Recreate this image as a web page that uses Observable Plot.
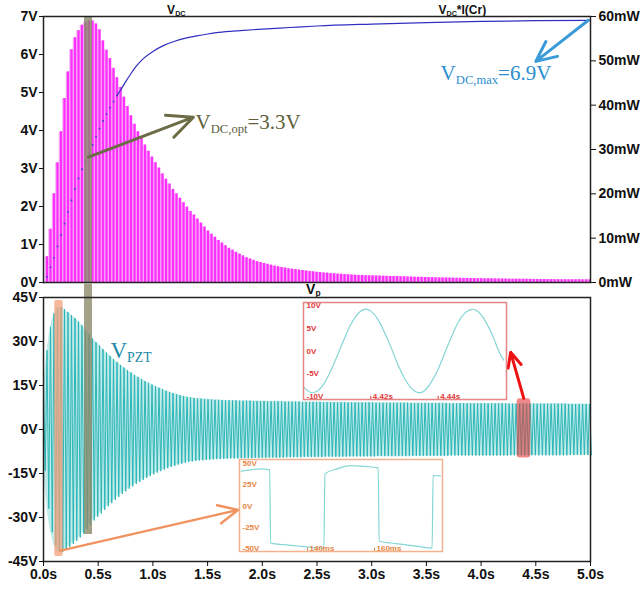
<!DOCTYPE html>
<html><head><meta charset="utf-8">
<script src="https://cdn.jsdelivr.net/npm/d3@7"></script>
<script src="https://cdn.jsdelivr.net/npm/@observablehq/plot@0.6"></script>
<style>
body{margin:0;background:#fff;}
#chart{position:relative;width:642px;height:591px;overflow:hidden;background:#fff;}
#chart svg{position:absolute;overflow:visible;}
</style></head><body><div id="chart"></div>
<script>
// ---------- data ----------
const PERIOD = 0.032; // s, one PZT cycle
// V_DC * I(Cr) per cycle, mW
const powerMW = [0,5.8,12,20,27,34,41.5,47.5,52.5,55.2,
56.8,58,58.7,59,59,58.3,57,54.5,52.4,50.5,
48.3,46.2,44,41.8,39.7,37.6,35.7,34,32.5,31,
29.6,28.3,27,25.8,24.5,23.3,22.2,21,20,19,
18,17,16,15.2,14.3,13.4,12.5,11.6,10.9,10.2,
9.5,8.9,8.3,7.7,7.3,6.8,6.4,6,5.6,5.3,
5,4.7,4.5,4.3,4.1,3.9,3.7,3.55,3.4,3.25,
3.1,3,2.9,2.8,2.7,2.6,2.5,2.4,2.3,2.25,
2.15,2.1,2,1.95,1.9,1.85,1.8,1.75,1.7,1.65,
1.6,1.6,1.55,1.5,1.5,1.47,1.45,1.42,1.4,1.37,
1.35,1.33,1.3,1.28,1.25,1.23,1.2,1.18,1.16,1.13,
1.11,1.09,1.06,1.04,1.03,1.01,0.99,0.98,0.96,0.95,
0.93,0.91,0.9,0.88,0.87,0.85,0.84,0.83,0.82,0.81,
0.8,0.78,0.77,0.76,0.75,0.74,0.73,0.72,0.71,0.71,
0.7,0.69,0.68,0.67,0.67,0.66,0.65,0.64,0.63,0.63,
0.62,0.62,0.61,0.61,0.6,0.6,0.6];
// V_PZT peak amplitude per cycle, V
const vpztAmp = [14,27,35,39.5,41.5,41.8,41,40,39,38,
36.8,35.5,34,32.5,31,29.8,28.6,27.4,26.2,25.1,
24,23,22,21.1,20.2,19.4,18.6,17.9,17.2,16.5,
15.9,15.3,14.7,14.2,13.7,13.2,12.8,12.4,12,11.7,
11.4,11.1,10.9,10.7,10.6,10.5,10.4,10.3,10.2,10.1,
10.1,10,10,9.9,9.9,9.9,9.8,9.8,9.8,9.8,
9.7,9.7,9.7,9.7,9.6,9.6,9.6,9.6,9.6,9.5,
9.5,9.5,9.5,9.5,9.4,9.4,9.4,9.4,9.4,9.4,
9.3,9.3,9.3,9.3,9.3,9.3,9.3,9.2,9.2,9.2,
9.2,9.2,9.2,9.2,9.2,9.1,9.1,9.1,9.1,9.1,
9.1,9.1,9.1,9.1,9.1,9,9,9,9,9,
9,9,9,9,9,9,8.9,8.9,8.9,8.9,
8.9,8.9,8.9,8.9,8.9,8.9,8.9,8.9,8.9,8.9,
8.9,8.9,8.9,8.8,8.8,8.8,8.8,8.8,8.8,8.8,
8.8,8.8,8.8,8.8,8.8,8.8,8.8,8.8,8.8,8.8,
8.7,8.7,8.7,8.7,8.7,8.7,8.7];
// V_DC sampled once per cycle (dotted part, t < 0.7 s)
const vdcDotsV = [0,0.15,0.4,0.65,0.95,1.25,1.55,1.86,2.16,2.46,2.74,2.98,3.2,3.4,3.62,3.84,4.05,4.25,4.43,4.6,4.76,4.92];
// V_DC solid part
const vdcLineT = [0.672,0.704,0.75,0.8,0.85,0.9,1.0,1.1,1.2,1.3,1.4,1.5,1.6,1.8,2.0,2.25,2.5,3.0,3.5,4.0,4.5,5.0];
const vdcLineV = [4.92,5.06,5.28,5.5,5.7,5.86,6.08,6.24,6.35,6.43,6.49,6.54,6.58,6.63,6.67,6.71,6.75,6.8,6.84,6.87,6.89,6.9];
// inset 1: V_PZT around 4.43 s
const sineT = [4.400,4.402,4.404,4.406,4.408,4.410,4.412,4.414,4.416,4.418,4.420,4.422,4.424,4.426,4.428,4.430,4.432,4.434,4.436,4.438,4.440,4.442,4.444,4.446,4.448,4.450,4.452,4.454,4.456,4.458,4.4595];
const sineV = [-7.9,-9.1,-8.9,-7.3,-4.5,-1.1,2.5,5.8,8.1,9.2,8.8,7.1,4.2,0.8,-2.9,-6.0,-8.2,-9.2,-8.7,-6.8,-4.0,-0.4,3.2,6.4,8.4,9.2,8.6,6.6,3.7,0.0,-2.0];
// inset 2: V_PZT around 150 ms
const sqT = [120.2,123,126,128.7,129.0,133,137,141,144.9,145.2,149,152.8,157,161.1,161.4,165,169,173,177.2,177.5,179.7];
const sqV = [41,42.5,43.7,42.5,-43.7,-45.5,-47,-48.5,-49.5,37.9,44,47.6,46.5,44.9,-41.4,-43.5,-45.5,-47.5,-49.5,35.9,35.5];
// tick labels
const vTicks = [0,1,2,3,4,5,6,7];
const mwTicks = [0,10,20,30,40,50,60];
const pztTicks = [-45,-30,-15,0,15,30,45];
const timeTicks = [0,0.5,1,1.5,2,2.5,3,3.5,4,4.5,5];
const sineYTicks = [10,5,0,-5,-10];
const sineXTicks = [4.42,4.44];
const sqYTicks = [50,25,0,-25,-50];
const sqXTicks = [140,160];
// annotations (data units)
const vdcOpt = {t: 0.41, v: 3.3};
const vdcMax = {t: 4.98, v: 6.9};

// ---------- build ----------
const V_PER_MW = 7 / 60;
const powerRows = powerMW.map((p, k) => ({t: k * PERIOD, p}));
const pztRows = vpztAmp.map((a, k) => ({t: k * PERIOD, a}));
const pztZig = vpztAmp.flatMap((a, k) => [{t: k * PERIOD, v: a}, {t: k * PERIOD + PERIOD / 2, v: -a}]);
const dotRows = vdcDotsV.map((v, k) => ({t: k * PERIOD, v}));
const lineRows = vdcLineT.map((t, i) => ({t, v: vdcLineV[i]}));
const sineRows = sineT.map((t, i) => ({t, v: sineV[i]}));
const sqRows = sqT.map((t, i) => ({t, v: sqV[i]}));

const SANS = "Arial, 'Liberation Sans', sans-serif";
const SERIF = "'Times New Roman', 'Liberation Serif', serif";
const baseStyle = {fontFamily: SANS, fontSize: "14px", fontWeight: "bold", color: "#111", background: "transparent", overflow: "visible"};

const chart = document.getElementById("chart");

function richify(svg) {
  d3.select(svg).selectAll("text").each(function() {
    const s = this.textContent;
    if (!s.includes("_{")) return;
    const parts = s.split(/(_\{[^}]*\})/).filter(p => p.length);
    const el = d3.select(this);
    el.text(null);
    let shifted = false;
    for (const p of parts) {
      if (p.startsWith("_{")) {
        el.append("tspan").attr("font-size", "0.6em").attr("dy", "0.35em").text(p.slice(2, -1));
        shifted = true;
      } else {
        const ts = el.append("tspan").text(p);
        if (shifted) { ts.attr("dy", "-0.21em"); shifted = false; }
      }
    }
  });
}
function place(svg, left, top) {
  svg.style.left = left + "px";
  svg.style.top = top + "px";
  chart.appendChild(svg);
  richify(svg);
}

// top panel
const topPlot = Plot.plot({
  width: 642, height: 290,
  marginTop: 16, marginBottom: 8, marginLeft: 43, marginRight: 52,
  style: baseStyle,
  x: {domain: [0, 5], axis: null},
  y: {domain: [0, 7]},
  marks: [
    Plot.areaY(powerRows, {x: "t", y: d => d.p * V_PER_MW, curve: "step", fill: "#f6acf6"}),
    Plot.ruleX(powerRows, {x: "t", y1: 0, y2: d => d.p * V_PER_MW, stroke: "#ff30ff", strokeWidth: 2.2}),
    Plot.dot(dotRows, {x: "t", y: "v", r: 0.9, fill: "#3535c8"}),
    Plot.line(lineRows, {x: "t", y: "v", stroke: "#3030c0", strokeWidth: 1.2, curve: "monotone-x"}),
    Plot.rect([vdcOpt], {x1: 0.375, x2: 0.448, y1: 0, y2: 7, fill: "#8b8b6b", fillOpacity: 0.8}),
    Plot.arrow([vdcOpt], {x1: "t", y1: "v", x2: 1.37, y2: 4.35, stroke: "#6b6b45", strokeWidth: 3, headLength: 14, headAngle: 50}),
    Plot.arrow([vdcMax], {x1: "t", y1: "v", x2: 4.5, y2: 5.82, stroke: "#3a9bd8", strokeWidth: 3, headLength: 14, headAngle: 50}),
    Plot.text(["V_{DC,opt}=3.3V"], {x: 1.39, y: 4.05, text: d => d, textAnchor: "start", lineAnchor: "bottom", fill: "#5e5e3a", fontFamily: SERIF, fontSize: 21, fontWeight: "normal"}),
    Plot.text(["V_{DC,max}=6.9V"], {x: 3.63, y: 5.34, text: d => d, textAnchor: "start", lineAnchor: "bottom", fill: "#2b8ed0", fontFamily: SERIF, fontSize: 21, fontWeight: "normal"}),
    Plot.text(["V_{DC}"], {x: 1.13, y: 7, dy: -3, text: d => d, textAnchor: "start", lineAnchor: "bottom", fontSize: 12}),
    Plot.text(["V_{DC}*I(Cr)"], {x: 3.61, y: 7, dy: -3, text: d => d, textAnchor: "start", lineAnchor: "bottom", fontSize: 12}),
    Plot.frame({stroke: "#222", strokeWidth: 1.5}),
    Plot.axisY(vTicks, {anchor: "left", label: null, tickFormat: d => d + "V", tickSize: 4, tickPadding: 2}),
    Plot.axisY(mwTicks.map(m => m * V_PER_MW), {anchor: "right", label: null, tickFormat: (d, i) => mwTicks[i] + "mW", tickSize: 5, tickPadding: 3})
  ]
});
place(topPlot, 0, 0);

// bottom panel
const botPlot = Plot.plot({
  width: 642, height: 308,
  marginTop: 14, marginBottom: 30, marginLeft: 43, marginRight: 52,
  style: baseStyle,
  x: {domain: [0, 5]},
  y: {domain: [-45, 45]},
  marks: [
    Plot.areaY(pztRows, {x: "t", y1: d => -d.a, y2: d => d.a, fill: "#c2ebeb"}),
    Plot.line(pztZig, {x: "t", y: "v", stroke: "#26b3b3", strokeWidth: 0.95}),
    Plot.rect([0], {x1: 0.103, x2: 0.18, y1: -43.3, y2: 44, fill: "#f4a079", fillOpacity: 0.75, rx: 2}),
    Plot.rect([0], {x1: 0.375, x2: 0.448, y1: -35.8, y2: 49.6, fill: "#8b8b6b", fillOpacity: 0.8}),
    Plot.rect([0], {x1: 4.33, x2: 4.455, y1: -9.7, y2: 10.5, fill: "#e53a3a", fillOpacity: 0.6, rx: 3}),
    Plot.arrow([0], {x1: 0.155, y1: -41.3, x2: 1.78, y2: -27.4, stroke: "#f0935f", strokeWidth: 2.5, headLength: 13, headAngle: 50}),
    Plot.arrow([0], {x1: 4.39, y1: 10.6, x2: 4.27, y2: 26.3, stroke: "#ee1111", strokeWidth: 3, headLength: 13, headAngle: 50}),
    Plot.text(["V_{PZT}"], {x: 0.612, y: 24.5, text: d => d, textAnchor: "start", lineAnchor: "bottom", fill: "#1c88a6", fontFamily: SERIF, fontSize: 23, fontWeight: "normal"}),
    Plot.text(["V_{p}"], {x: 2.40, y: 45, dy: -4, text: d => d, textAnchor: "start", lineAnchor: "bottom", fontSize: 14}),
    Plot.frame({stroke: "#222", strokeWidth: 1.5}),
    Plot.axisY(pztTicks, {anchor: "left", label: null, tickFormat: d => d + "V", tickSize: 4, tickPadding: 2}),
    Plot.axisX(timeTicks, {anchor: "bottom", label: null, tickFormat: d => d.toFixed(1) + "s", tickSize: 5, tickPadding: 3})
  ]
});
place(botPlot, 0, 283);

// inset: sine
const insetStyle = {fontFamily: SANS, fontSize: "8px", fontWeight: "bold", background: "#fff", overflow: "visible"};
const sinePlot = Plot.plot({
  width: 203, height: 97, margin: 0,
  style: insetStyle,
  x: {domain: [4.40, 4.4603], axis: null},
  y: {domain: [-10.7, 10.7], axis: null},
  marks: [
    Plot.line(sineRows, {x: "t", y: "v", stroke: "#86d6d6", strokeWidth: 1.2, curve: "natural"}),
    Plot.text(sineYTicks, {x: 4.40, y: d => d, dx: 3, text: d => d + "V", textAnchor: "start", fill: "#e03535"}),
    Plot.ruleX(sineXTicks, {x: d => d, y1: -10.7, y2: -10.0, stroke: "#e03535"}),
    Plot.text(sineXTicks, {x: d => d, y: -10.7, dx: 2, dy: -1, text: d => d.toFixed(2) + "s", textAnchor: "start", lineAnchor: "bottom", fill: "#e03535"}),
    Plot.frame({stroke: "#e58585", strokeWidth: 1.5})
  ]
});
place(sinePlot, 303, 302);

// inset: square-like
const sqPlot = Plot.plot({
  width: 203, height: 92, margin: 0,
  style: insetStyle,
  x: {domain: [119.7, 180.3], axis: null},
  y: {domain: [-53.5, 54.7], axis: null},
  marks: [
    Plot.line(sqRows, {x: "t", y: "v", stroke: "#86d6d6", strokeWidth: 1.2, curve: "monotone-x"}),
    Plot.text(sqYTicks, {x: 119.7, y: d => d, dx: 3, text: d => d + "V", textAnchor: "start", fill: "#e8843e"}),
    Plot.ruleX(sqXTicks, {x: d => d, y1: -53.5, y2: -49.5, stroke: "#e8843e"}),
    Plot.text(sqXTicks, {x: d => d, y: -53.5, dx: 2, dy: -1, text: d => d + "ms", textAnchor: "start", lineAnchor: "bottom", fill: "#e8843e"}),
    Plot.frame({stroke: "#f2b28f", strokeWidth: 1.5})
  ]
});
place(sqPlot, 239, 459);
</script></body></html>
